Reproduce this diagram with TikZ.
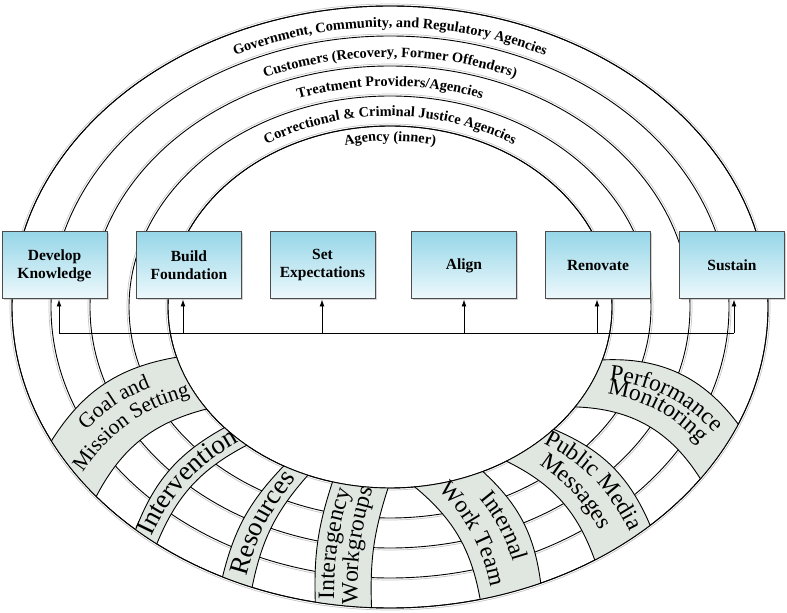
\documentclass[tikz,border=0pt]{standalone}
\usepackage{fontspec}
\setmainfont{Liberation Serif}
\usepackage{tikz}
\usetikzlibrary{calc,arrows.meta,shadows,decorations.text}

\definecolor{boxtop}{RGB}{150,214,232}
\definecolor{boxbottom}{RGB}{238,249,252}
\definecolor{bandgray}{RGB}{224,230,224}
\newcommand{\ringfont}{\fontsize{14.3}{14.3}\selectfont\bfseries}
\newcommand{\bandfontsmall}{\fontsize{21.5}{21.5}\selectfont}
\newcommand{\bandfont}{\fontsize{23.5}{23.5}\selectfont}
\newcommand{\bandfontbig}{\fontsize{27}{27}\selectfont}

\begin{document}
\begin{tikzpicture}[x=1pt,y=1pt,
  ring/.style={line width=0.9pt},
  ringshade/.style={draw=gray!45,line width=0.7pt},
  stage/.style={draw=black!70,line width=1pt,top color=boxtop,bottom color=boxbottom,
    minimum width=105pt,minimum height=67pt,inner sep=0pt,align=center,
    font=\fontsize{15.5}{18}\selectfont\bfseries,
    drop shadow={opacity=0.35,shadow xshift=1.5pt,shadow yshift=-1.5pt}},
  bandfill/.style={fill=bandgray},
  bandedge/.style={line width=0.9pt},
  arr/.style={-{Latex[length=7pt,width=5pt]},line width=0.9pt}]
\useasboundingbox (0,0) rectangle (787,613);
\coordinate (C) at (390,306);

% rings
\draw[ringshade] (C) ellipse [x radius=380pt, y radius=303pt];
\draw[ringshade] (C) ellipse [x radius=341pt, y radius=273pt];
\draw[ringshade] (C) ellipse [x radius=302pt, y radius=243pt];
\draw[ringshade] (C) ellipse [x radius=263pt, y radius=213pt];
\draw[ringshade] (C) ellipse [x radius=224pt, y radius=183pt];
\draw[ring] (C) ellipse [x radius=378pt, y radius=301pt];
\draw[ring] (C) ellipse [x radius=339pt, y radius=271pt];
\draw[ring] (C) ellipse [x radius=300pt, y radius=241pt];
\draw[ring] (C) ellipse [x radius=261pt, y radius=211pt];
\draw[ring] (C) ellipse [x radius=222pt, y radius=181pt];

% bands
\fill[bandfill] ($(C)+(-153.6:378pt and 301pt)$) coordinate (goalOa) to[bend left=24] ($(C)+(-163.9:222pt and 181pt)$) coordinate (goalIa)
  arc[start angle=-163.9,end angle=-145.7,x radius=222pt,y radius=181pt] coordinate (goalIb)
  to[bend right=24] ($(C)+(-141:378pt and 301pt)$) coordinate (goalOb)
  arc[start angle=-141,end angle=-153.6,x radius=378pt,y radius=301pt] -- cycle;
\fill[bandfill] ($(C)+(-132.3:378pt and 301pt)$) coordinate (intOa) to[bend left=20] ($(C)+(-138.2:222pt and 181pt)$) coordinate (intIa)
  arc[start angle=-138.2,end angle=-130.2,x radius=222pt,y radius=181pt] coordinate (intIb)
  to[bend right=20] ($(C)+(-128.1:378pt and 301pt)$) coordinate (intOb)
  arc[start angle=-128.1,end angle=-132.3,x radius=378pt,y radius=301pt] -- cycle;
\fill[bandfill] ($(C)+(-116.3:378pt and 301pt)$) coordinate (resOa) to[bend left=15] ($(C)+(-118.6:222pt and 181pt)$) coordinate (resIa)
  arc[start angle=-118.6,end angle=-111.7,x radius=222pt,y radius=181pt] coordinate (resIb)
  to[bend right=15] ($(C)+(-111.4:378pt and 301pt)$) coordinate (resOb)
  arc[start angle=-111.4,end angle=-116.3,x radius=378pt,y radius=301pt] -- cycle;
\fill[bandfill] ($(C)+(-101.4:378pt and 301pt)$) coordinate (iagOa) to[bend left=10] ($(C)+(-105:222pt and 181pt)$) coordinate (iagIa)
  arc[start angle=-105,end angle=-90.5,x radius=222pt,y radius=181pt] coordinate (iagIb)
  to[bend right=10] ($(C)+(-92.8:378pt and 301pt)$) coordinate (iagOb)
  arc[start angle=-92.8,end angle=-101.4,x radius=378pt,y radius=301pt] -- cycle;
\fill[bandfill] ($(C)+(-76.2:378pt and 301pt)$) coordinate (iwtOa) to[bend right=20] ($(C)+(-83.6:222pt and 181pt)$) coordinate (iwtIa)
  arc[start angle=-83.6,end angle=-65.3,x radius=222pt,y radius=181pt] coordinate (iwtIb)
  to[bend left=20] ($(C)+(-66.5:378pt and 301pt)$) coordinate (iwtOb)
  arc[start angle=-66.5,end angle=-76.2,x radius=378pt,y radius=301pt] -- cycle;
\fill[bandfill] ($(C)+(-57.2:378pt and 301pt)$) coordinate (pmmOa) to[bend right=22] ($(C)+(-58.4:222pt and 181pt)$) coordinate (pmmIa)
  arc[start angle=-58.4,end angle=-42.5,x radius=222pt,y radius=181pt] coordinate (pmmIb)
  to[bend left=22] ($(C)+(-46.5:378pt and 301pt)$) coordinate (pmmOb)
  arc[start angle=-46.5,end angle=-57.2,x radius=378pt,y radius=301pt] -- cycle;
\fill[bandfill] ($(C)+(-34.8:378pt and 301pt)$) coordinate (perfOa) to[bend right=28] ($(C)+(-33.5:222pt and 181pt)$) coordinate (perfIa)
  arc[start angle=-33.5,end angle=-17,x radius=222pt,y radius=181pt] coordinate (perfIb)
  to[bend left=28] ($(C)+(-22.9:378pt and 301pt)$) coordinate (perfOb)
  arc[start angle=-22.9,end angle=-34.8,x radius=378pt,y radius=301pt] -- cycle;
\draw[ring] (C) ellipse [x radius=378pt, y radius=301pt];
\draw[ring] (C) ellipse [x radius=222pt, y radius=181pt];

\draw[bandedge] (goalOa) to[bend left=24] (goalIa) (goalOb) to[bend left=24] (goalIb);
\draw[bandedge] (intOa) to[bend left=20] (intIa) (intOb) to[bend left=20] (intIb);
\draw[bandedge] (resOa) to[bend left=15] (resIa) (resOb) to[bend left=15] (resIb);
\draw[bandedge] (iagOa) to[bend left=10] (iagIa) (iagOb) to[bend left=10] (iagIb);
\draw[bandedge] (iwtOa) to[bend right=20] (iwtIa) (iwtOb) to[bend right=20] (iwtIb);
\draw[bandedge] (pmmOa) to[bend right=22] (pmmIa) (pmmOb) to[bend right=22] (pmmIb);
\draw[bandedge] (perfOa) to[bend right=28] (perfIa) (perfOb) to[bend right=28] (perfIb);

% band labels
\path[decorate,decoration={text along path,text align=center,text={|\bandfontsmall|Goal and}}]
  ($(C)+(-148.6:390pt and 310pt)$) to[bend left=24] ($(C)+(-156.6:210pt and 172pt)$);
\path[decorate,decoration={text along path,text align=center,text={|\bandfontsmall|Mission Setting}}]
  ($(C)+(-144.3:390pt and 310pt)$) to[bend left=24] ($(C)+(-150.4:210pt and 172pt)$);
\path[decorate,decoration={text along path,text align=center,text={|\bandfontbig|Intervention}}]
  ($(C)+(-128.7:390pt and 310pt)$) to[bend left=20] ($(C)+(-131.4:210pt and 172pt)$);
\path[decorate,decoration={text along path,text align=center,text={|\bandfontbig|Resources}}]
  ($(C)+(-112.3:390pt and 310pt)$) to[bend left=15] ($(C)+(-112.9:210pt and 172pt)$);
\path[decorate,decoration={text along path,text align=center,text={|\bandfont|Interagency}}]
  ($(C)+(-98.2:390pt and 310pt)$) to[bend left=10] ($(C)+(-99.6:210pt and 172pt)$);
\path[decorate,decoration={text along path,text align=center,text={|\bandfont|Workgroups}}]
  ($(C)+(-94.7:390pt and 310pt)$) to[bend left=10] ($(C)+(-93.7:210pt and 172pt)$);
\path[decorate,decoration={text along path,text align=center,text={|\bandfont|Internal}}]
  ($(C)+(-72.6:210pt and 172pt)$) to[bend left=20] ($(C)+(-70.4:390pt and 310pt)$);
\path[decorate,decoration={text along path,text align=center,text={|\bandfont|Work Team}}]
  ($(C)+(-80.5:210pt and 172pt)$) to[bend left=20] ($(C)+(-74.6:390pt and 310pt)$);
\path[decorate,decoration={text along path,text align=center,text={|\bandfont|Public Media}}]
  ($(C)+(-48.9:210pt and 172pt)$) to[bend left=22] ($(C)+(-50.8:390pt and 310pt)$);
\path[decorate,decoration={text along path,text align=center,text={|\bandfont|Messages}}]
  ($(C)+(-55.2:210pt and 172pt)$) to[bend left=22] ($(C)+(-55.1:390pt and 310pt)$);
\path[decorate,decoration={text along path,text align=center,text={|\bandfont|Performance}}]
  ($(C)+(-24.9:210pt and 172pt)$) to[bend left=28] ($(C)+(-28.6:390pt and 310pt)$);
\path[decorate,decoration={text along path,text align=center,text={|\bandfont|Monitoring}}]
  ($(C)+(-29.5:210pt and 172pt)$) to[bend left=28] ($(C)+(-31.9:390pt and 310pt)$);

% ring labels
\path[decorate,decoration={text along path,text align=center,
  text={|\ringfont|Government, Community, and Regulatory Agencies}}]
  ($(C)+(180:351pt and 280pt)$) arc[start angle=180,end angle=0,x radius=351pt,y radius=280pt];
\path[decorate,decoration={text along path,text align=center,
  text={|\ringfont|Customers (Recovery, Former Offenders)}}]
  ($(C)+(180:312pt and 250pt)$) arc[start angle=180,end angle=0,x radius=312pt,y radius=250pt];
\path[decorate,decoration={text along path,text align=center,
  text={|\ringfont|Treatment Providers/Agencies}}]
  ($(C)+(180:274pt and 221pt)$) arc[start angle=180,end angle=0,x radius=274pt,y radius=221pt];
\path[decorate,decoration={text along path,text align=center,
  text={|\ringfont|Correctional {\&} Criminal Justice Agencies}}]
  ($(C)+(180:235pt and 191pt)$) arc[start angle=180,end angle=0,x radius=235pt,y radius=191pt];
\path[decorate,decoration={text along path,text align=center,
  text={|\ringfont|Agency (inner)}}]
  ($(C)+(180:202pt and 166pt)$) arc[start angle=180,end angle=0,x radius=202pt,y radius=166pt];

% connector
\coordinate (a1) at (59,280);
\coordinate (a2) at (183,280);
\coordinate (a3) at (322,280);
\coordinate (a4) at (464,280);
\coordinate (a5) at (597,280);
\coordinate (a6) at (734,280);
\draw[line width=0.9pt] (a1) -- (a6);

% stages
\node[stage] (dk) at (54.5,347.5) {Develop\\Knowledge};
\node[stage] (bf) at (189,347.5) {Build\\Foundation};
\node[stage] (se) at (322.5,347.5) {Set\\Expectations};
\node[stage] (al) at (464,347.5) {Align};
\node[stage] (rn) at (598,347.5) {Renovate};
\node[stage] (su) at (732,347.5) {Sustain};

\draw[arr] (a1) -- (a1 |- dk.south);
\draw[arr] (a2) -- (a2 |- bf.south);
\draw[arr] (a3) -- (a3 |- se.south);
\draw[arr] (a4) -- (a4 |- al.south);
\draw[arr] (a5) -- (a5 |- rn.south);
\draw[arr] (a6) -- (a6 |- su.south);
\end{tikzpicture}
\end{document}
